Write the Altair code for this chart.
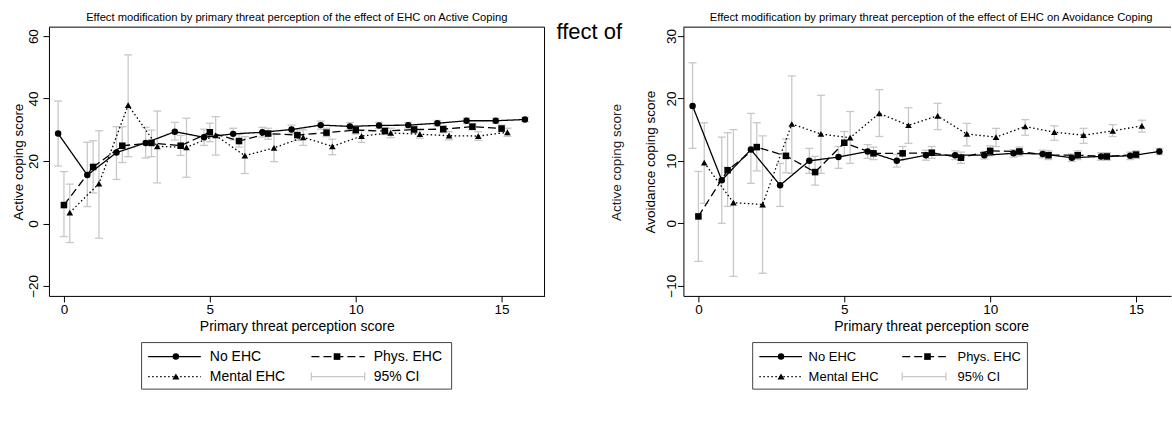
import altair as alt
import pandas as pd

# ---------------------------------------------------------------------------
# Data: estimated coping scores (with 95% CI) by primary threat perception
# score, for three exposure groups.
# ---------------------------------------------------------------------------
GROUPS = ["No EHC", "Phys. EHC", "Mental EHC"]
DODGE = {"No EHC": -0.2, "Phys. EHC": 0.0, "Mental EHC": 0.2}

scores_no_ehc = list(range(17))
scores_ehc = list(range(16))

# Active coping
active_no_est = [28.8, 15.5, 22.7, 25.8, 29.4, 27.6, 28.7, 29.2, 30.1, 31.5,
                 31.1, 31.4, 31.5, 32.1, 32.9, 32.9, 33.3]
active_no_lo = [18.4, 5.4, 14.1, 21.0, 26.7, 25.0, 26.8, 27.7, 28.8, 30.2,
                30.0, 30.4, 30.6, 31.2, 32.0, 32.1, 32.6]
active_no_hi = [39.2, 26.0, 31.0, 30.8, 32.4, 30.2, 30.5, 30.8, 31.5, 32.8,
                32.3, 32.4, 32.4, 33.0, 33.8, 33.7, 34.0]

active_phys_est = [5.9, 18.1, 24.9, 25.8, 24.9, 29.2, 26.4, 28.8, 28.3, 29.1,
                   29.9, 29.6, 30.1, 30.2, 31.0, 30.4]
active_phys_lo = [-4.2, 9.8, 19.5, 21.4, 21.8, 26.2, 24.5, 27.0, 26.6, 27.8,
                  28.7, 28.5, 29.0, 29.1, 30.0, 29.4]
active_phys_hi = [16.6, 26.5, 31.0, 29.9, 28.2, 32.1, 28.5, 30.5, 30.0, 30.5,
                  31.0, 30.8, 31.2, 31.3, 32.0, 31.5]

active_mental_est = [3.5, 12.8, 37.9, 24.7, 24.4, 28.2, 21.7, 24.2, 27.6, 24.7,
                     28.0, 29.0, 28.6, 28.1, 28.0, 29.2]
active_mental_lo = [-6.1, -4.7, 21.4, 13.0, 14.8, 21.9, 16.0, 19.8, 25.0, 22.0,
                    26.0, 27.5, 27.3, 26.8, 26.6, 27.9]
active_mental_hi = [12.6, 29.7, 54.0, 36.0, 33.7, 34.2, 27.8, 28.5, 30.0, 27.0,
                    30.0, 30.5, 29.9, 29.4, 29.4, 30.5]

# Avoidance coping
avoid_no_est = [18.8, 6.9, 11.8, 6.1, 10.0, 10.6, 11.5, 10.0, 10.9, 10.9,
                10.9, 11.2, 11.1, 10.5, 10.7, 10.8, 11.5]
avoid_no_lo = [12.0, 0.0, 6.4, 2.7, 8.0, 8.8, 10.4, 9.0, 10.1, 10.2,
               10.3, 10.6, 10.5, 9.9, 10.1, 10.2, 11.0]
avoid_no_hi = [25.7, 13.8, 17.6, 9.6, 12.0, 12.3, 12.6, 11.0, 11.7, 11.6,
               11.5, 11.8, 11.7, 11.1, 11.3, 11.4, 12.0]

avoid_phys_est = [1.1, 8.5, 12.2, 10.8, 8.2, 12.9, 11.2, 11.2, 11.3, 10.5,
                  11.6, 11.5, 10.9, 10.9, 10.7, 11.0]
avoid_phys_lo = [-6.1, 2.7, 8.4, 8.1, 6.1, 10.9, 10.2, 10.2, 10.4, 9.6,
                 10.8, 10.8, 10.2, 10.2, 10.1, 10.4]
avoid_phys_hi = [8.3, 14.5, 16.1, 13.5, 10.7, 14.7, 12.2, 12.3, 12.3, 11.4,
                 12.4, 12.2, 11.6, 11.6, 11.3, 11.6]

avoid_mental_est = [9.7, 3.3, 3.0, 15.9, 14.3, 13.7, 17.6, 15.7, 17.2, 14.3,
                    13.8, 15.5, 14.6, 14.1, 14.8, 15.6]
avoid_mental_lo = [3.2, -8.5, -8.0, 8.0, 8.0, 9.6, 13.9, 12.8, 15.0, 12.4,
                   12.3, 14.1, 13.3, 12.8, 13.9, 14.6]
avoid_mental_hi = [16.1, 15.0, 14.0, 23.6, 20.5, 17.9, 21.4, 18.5, 19.2, 16.0,
                   15.2, 16.6, 15.6, 15.2, 15.8, 16.5]

x_ticks = [0, 5, 10, 15]
active_y_ticks = [-20, 0, 20, 40, 60]
avoid_y_ticks = [-10, 0, 10, 20, 30]


def long_table(series):
    rows = []
    for group, scores, est, lo, hi in series:
        for s, e, l, h in zip(scores, est, lo, hi):
            rows.append({"group": group, "score": s, "est": e, "lo": l, "hi": h,
                         "xpos": s + DODGE[group]})
    return pd.DataFrame(rows)


active_df = long_table([
    ("No EHC", scores_no_ehc, active_no_est, active_no_lo, active_no_hi),
    ("Phys. EHC", scores_ehc, active_phys_est, active_phys_lo, active_phys_hi),
    ("Mental EHC", scores_ehc, active_mental_est, active_mental_lo, active_mental_hi),
])
avoid_df = long_table([
    ("No EHC", scores_no_ehc, avoid_no_est, avoid_no_lo, avoid_no_hi),
    ("Phys. EHC", scores_ehc, avoid_phys_est, avoid_phys_lo, avoid_phys_hi),
    ("Mental EHC", scores_ehc, avoid_mental_est, avoid_mental_lo, avoid_mental_hi),
])

# ---------------------------------------------------------------------------
# Styling
# ---------------------------------------------------------------------------
FONT = "Liberation Sans"
CI_COLOR = "#c8c8c8"
LINE_W = 1.3
TEXT_SIZE = 14
DASHES = {"No EHC": [1, 0], "Phys. EHC": [8, 4], "Mental EHC": [1.5, 2.5]}
SHAPES = {"No EHC": "circle", "Phys. EHC": "square", "Mental EHC": "triangle-up"}
SIZES = {"No EHC": 42, "Phys. EHC": 44, "Mental EHC": 50}
one_row = pd.DataFrame({"k": [0]})


def legend_layers(box, col1, col2, rows, font_size):
    """Stata-style boxed key drawn below the plot region."""
    (bx0, bx1, by0, by1) = box
    r1, r2 = rows
    layers = [
        alt.Chart(one_row).mark_rect(fill="white", stroke="#444", strokeWidth=1).encode(
            x=alt.value(bx0), x2=alt.value(bx1), y=alt.value(by0), y2=alt.value(by1))
    ]
    entries = [
        ("No EHC", col1, r1),
        ("Phys. EHC", col2, r1),
        ("Mental EHC", col1, r2),
    ]
    for group, (lx0, lx1, mx, tx), ry in entries:
        layers.append(alt.Chart(one_row).mark_rule(
            color="black", strokeWidth=LINE_W, strokeDash=DASHES[group]).encode(
            x=alt.value(lx0), x2=alt.value(lx1), y=alt.value(ry)))
        layers.append(alt.Chart(one_row).mark_point(
            shape=SHAPES[group], filled=True, size=SIZES[group], color="black", opacity=1).encode(
            x=alt.value(mx), y=alt.value(ry)))
        layers.append(alt.Chart(one_row).mark_text(
            text=group, align="left", baseline="middle", fontSize=font_size, font=FONT,
            color="black").encode(x=alt.value(tx), y=alt.value(ry)))
    # confidence-interval key
    lx0, lx1, mx, tx = col2
    layers.append(alt.Chart(one_row).mark_rule(color=CI_COLOR, strokeWidth=LINE_W).encode(
        x=alt.value(lx0), x2=alt.value(lx1), y=alt.value(r2)))
    for cx in (lx0, lx1):
        layers.append(alt.Chart(one_row).mark_rule(color=CI_COLOR, strokeWidth=LINE_W).encode(
            x=alt.value(cx), y=alt.value(r2 - 4), y2=alt.value(r2 + 4)))
    layers.append(alt.Chart(one_row).mark_text(
        text="95% CI", align="left", baseline="middle", fontSize=font_size, font=FONT,
        color="black").encode(x=alt.value(tx), y=alt.value(r2)))
    return layers


def panel(df, *, width, height, xdom, ydom, yvals, ytitle, title,
          label_pad, ytitle_x, legend, right_edge, extras=()):
    x = alt.X("xpos:Q", scale=alt.Scale(domain=xdom, nice=False, zero=False),
              axis=alt.Axis(values=x_ticks, format="d", title="Primary threat perception score",
                            titleX=248, titleY=35, titleBaseline="alphabetic",
                            titleFontSize=TEXT_SIZE,
                            labelBaseline="alphabetic", labelPadding=12, tickSize=6,
                            labelFlush=False, labelOverlap=False))
    y_axis = alt.Axis(values=yvals, format="d", title=ytitle, labelAngle=270,
                      labelAlign="center", labelBaseline="alphabetic",
                      labelPadding=label_pad, tickSize=6, titleX=ytitle_x,
                      titleY=height / 2, titleBaseline="alphabetic",
                      labelFlush=False, labelOverlap=False)
    yscale = alt.Scale(domain=ydom, nice=False, zero=False)

    base = alt.Chart(df)
    ci = base.mark_rule(color=CI_COLOR, strokeWidth=LINE_W).encode(
        x=x, y=alt.Y("lo:Q", scale=yscale, axis=y_axis), y2="hi:Q")
    cap_lo = base.mark_tick(orient="horizontal", size=8, thickness=LINE_W,
                            color=CI_COLOR, opacity=1).encode(
        x=x, y=alt.Y("lo:Q", scale=yscale, axis=y_axis))
    cap_hi = base.mark_tick(orient="horizontal", size=8, thickness=LINE_W,
                            color=CI_COLOR, opacity=1).encode(
        x=x, y=alt.Y("hi:Q", scale=yscale, axis=y_axis))
    lines = base.mark_line(color="black", strokeWidth=LINE_W).encode(
        x=x, y=alt.Y("est:Q", scale=yscale, axis=y_axis),
        detail="group:N",
        strokeDash=alt.StrokeDash("group:N", legend=None,
                                  scale=alt.Scale(domain=GROUPS,
                                                  range=[DASHES[g] for g in GROUPS])))
    points = base.mark_point(filled=True, color="black", opacity=1).encode(
        x=x, y=alt.Y("est:Q", scale=yscale, axis=y_axis),
        shape=alt.Shape("group:N", legend=None,
                        scale=alt.Scale(domain=GROUPS, range=[SHAPES[g] for g in GROUPS])),
        size=alt.Size("group:N", legend=None,
                      scale=alt.Scale(domain=GROUPS, range=[SIZES[g] for g in GROUPS])))
    heading = alt.Chart(one_row).mark_text(
        text=title, align="center", baseline="alphabetic", fontSize=11.2, font=FONT,
        color="black").encode(x=alt.value(248), y=alt.value(-6))

    # plot-region border: top edge, plus right edge where the panel ends
    frame = [alt.Chart(one_row).mark_rule(color="black", strokeWidth=1).encode(
        x=alt.value(0), x2=alt.value(width), y=alt.value(0))]
    if right_edge:
        frame.append(alt.Chart(one_row).mark_rule(color="black", strokeWidth=1).encode(
            x=alt.value(width), y=alt.value(0), y2=alt.value(height)))

    layers = [ci, cap_lo, cap_hi, lines, points, heading] + frame
    layers += legend_layers(**legend)
    layers += list(extras)
    return alt.layer(*layers).properties(width=width, height=height)


PX_PER_UNIT = 29.2
left = panel(
    active_df, width=496, height=269,
    xdom=[-0.514, -0.514 + 496 / PX_PER_UNIT], ydom=[-23.2, 62.88],
    yvals=active_y_ticks, ytitle="Active coping score",
    title="Effect modification by primary threat perception of the effect of EHC on Active Coping",
    label_pad=5, ytitle_x=-26.7, right_edge=True,
    legend=dict(box=(92.7, 403, 315.7, 362.3),
                col1=(99.3, 152, 127, 161), col2=(262.7, 316, 288.3, 325),
                rows=(329.7, 349.7), font_size=TEXT_SIZE),
)

right_extras = [
    alt.Chart(one_row).mark_text(text="ffect of", align="left", baseline="alphabetic",
                                 fontSize=22, font=FONT, color="black").encode(
        x=alt.value(-127), y=alt.value(12)),
    alt.Chart(one_row).mark_text(text="Active coping score", align="center",
                                 baseline="alphabetic", angle=270, fontSize=13.5,
                                 font=FONT, color="#222").encode(
        x=alt.value(-62), y=alt.value(135.5)),
]

right = panel(
    avoid_df, width=488, height=269,
    xdom=[-0.514, -0.514 + 488 / PX_PER_UNIT], ydom=[-11.63, 31.41],
    yvals=avoid_y_ticks, ytitle="Avoidance coping score",
    title="Effect modification by primary threat perception of the effect of EHC on Avoidance Coping",
    label_pad=1.6, ytitle_x=-29.4, right_edge=False,
    legend=dict(box=(69.3, 344.3, 315.7, 362.3),
                col1=(76, 118.7, 97.7, 125.3), col2=(219, 262.7, 244.3, 274.3),
                rows=(329.7, 349.7), font_size=13),
    extras=right_extras,
)

chart = alt.hconcat(left, right, spacing=139, bounds="flush").properties(
    padding={"left": 11, "top": 12, "right": 0, "bottom": 5},
    background="white",
).configure_view(
    strokeWidth=0,
).configure_axis(
    grid=False, domainColor="black", domainWidth=1, tickColor="black", tickWidth=1,
    labelColor="black", titleColor="black", labelFont=FONT, titleFont=FONT,
    labelFontSize=13.5, titleFontSize=13.5, titleFontWeight="normal",
).configure_text(font=FONT)

chart.save("out.html", embed_options={"renderer": "svg", "actions": False})
